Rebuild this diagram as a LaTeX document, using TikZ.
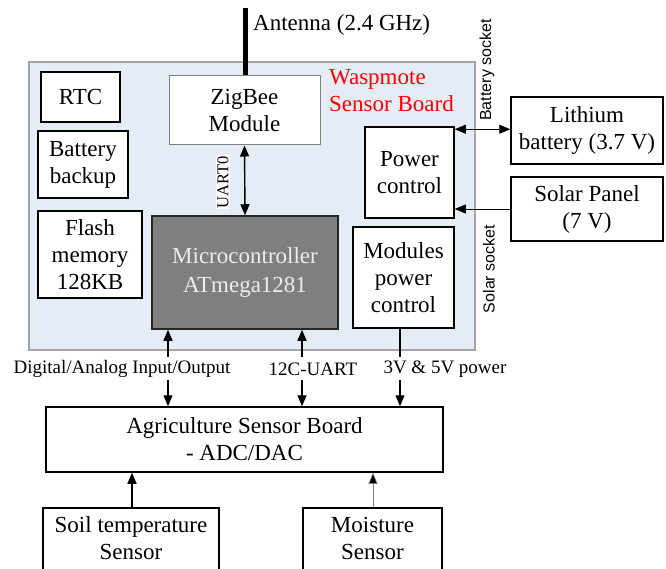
\documentclass[tikz,border=0pt]{standalone}
\usepackage{fontspec}
\setmainfont{Liberation Serif}
\setsansfont{Liberation Sans}
\usetikzlibrary{arrows.meta}
\definecolor{boardfill}{HTML}{E6ECF6}
\definecolor{boardline}{HTML}{A6A6A6}
\definecolor{mcufill}{HTML}{7F7F7F}
\definecolor{mcutext}{HTML}{EDEDED}
\tikzset{
  main/.style={font=\fontsize{23}{27}\selectfont},
  box/.style={main, draw=black, line width=1.5pt, fill=white, align=center, inner sep=0pt},
  lbl/.style={font=\fontsize{19}{22}\selectfont, inner sep=0pt},
  sock/.style={font=\sffamily\fontsize{16}{19}\selectfont, rotate=90, inner sep=0pt},
  arr/.style={line width=1.4pt, -{Triangle[length=11pt,width=9pt]}},
  darr/.style={line width=1.4pt, {Triangle[length=11pt,width=9pt]}-{Triangle[length=11pt,width=9pt]}},
  thinarr/.style={line width=0.7pt, -{Triangle[length=11pt,width=9pt]}},
  thindarr/.style={line width=0.7pt, {Triangle[length=11pt,width=9pt]}-{Triangle[length=11pt,width=9pt]}},
}
\begin{document}
\begin{tikzpicture}[x=1pt,y=-1pt]
\clip (0,0) rectangle (666,569);
\fill[white] (0,0) rectangle (666,569);
% board
\node[draw=boardline, fill=boardfill, line width=1.2pt, minimum width=446pt, minimum height=288pt, inner sep=0pt] (board) at (252,206) {};
% boxes
\node[box, minimum width=79pt, minimum height=50pt] (rtc) at (80.5,97) {RTC};
\node[box, minimum width=90pt, minimum height=67pt] (backup) at (83,164.5) {Battery\\backup};
\node[box, minimum width=104pt, minimum height=87pt] (flash) at (90,254.5) {Flash\\memory\\128KB};
\node[box, draw=gray, line width=1pt, minimum width=151pt, minimum height=69pt] (zigbee) at (244.5,110.5) {ZigBee\\Module};
\node[box, fill=mcufill, draw=black!85, text=mcutext, minimum width=186pt, minimum height=113pt] (mcu) at (245,272.5) {Microcontroller\\[2pt]ATmega1281};
\node[box, minimum width=89pt, minimum height=91pt] (power) at (409.5,172.5) {Power\\control};
\node[box, minimum width=101pt, minimum height=101pt] (modpow) at (403.5,277.5) {Modules\\power\\control};
\node[box, minimum width=152pt, minimum height=67pt] (lithium) at (587,130.5) {Lithium\\battery (3.7 V)};
\node[box, minimum width=152pt, minimum height=64pt] (solar) at (587,209) {Solar Panel\\(7 V)};
\node[box, minimum width=397pt, minimum height=65pt] (agri) at (244.5,439.5) {Agriculture Sensor Board\\- ADC/DAC};
\node[box, minimum width=176pt, minimum height=74pt] (soil) at (131,545) {};
\node[main, align=center] (soilt) at (131,538.5) {Soil temperature\\Sensor};
\node[box, minimum width=139pt, minimum height=74pt] (moist) at (372.5,545) {};
\node[main, align=center] (moistt) at (372.5,538.5) {Moisture\\Sensor};
% texts
\node[main, anchor=west, inner sep=0pt] (anttext) at (253,25) {Antenna (2.4 GHz)};
\node[main, anchor=west, align=left, text=red, inner sep=0pt] (wasp) at (329,91) {Waspmote\\Sensor Board};
\node[font=\fontsize{16.5}{19}\selectfont, rotate=90, fill=white, inner sep=1pt] (uartl) at (223,182) {UART0};
\node[sock] (batsock) at (487,70) {Battery socket};
\node[sock] (solsock) at (489,269) {Solar socket};
\node[lbl] (dig) at (122,369) {Digital/Analog Input/Output};
\node[lbl] (i2c) at (313,369) {12C-UART};
\node[lbl] (pwr) at (445,369) {3V \& 5V power};
% coordinates
\coordinate (ant) at (245,8);
\coordinate (d1) at (168,357);
\coordinate (d2) at (168,380);
\coordinate (u1) at (302,357);
\coordinate (u2) at (302,380);
\coordinate (p1) at (400,357);
\coordinate (p2) at (400,380);
\coordinate (s1) at (132,0);
\coordinate (m1) at (373,0);
% connectors
\draw[line width=5pt] (ant) -- (ant |- zigbee.north);
\draw[darr] (zigbee.south) -- (mcu.north);
\draw[thindarr] ([yshift=-3pt]power.north east) -- ([yshift=-3pt]power.north east -| lithium.west);
\draw[thinarr] (solar.west) -- (solar.west -| power.east);
\draw[arr] (d1) -- (d1 |- mcu.south);
\draw[arr] (d2) -- (d2 |- agri.north);
\draw[arr] (u1) -- (u1 |- mcu.south);
\draw[arr] (u2) -- (u2 |- agri.north);
\draw[line width=1.4pt] (p1 |- modpow.south) -- (p1);
\draw[arr] (p2) -- (p2 |- agri.north);
\draw[arr] (s1 |- soil.north) -- (s1 |- agri.south);
\draw[line width=0.7pt, draw=gray, -{Triangle[length=11pt,width=9pt,fill=black]}] (m1 |- moist.north) -- (m1 |- agri.south);
\end{tikzpicture}
\end{document}
